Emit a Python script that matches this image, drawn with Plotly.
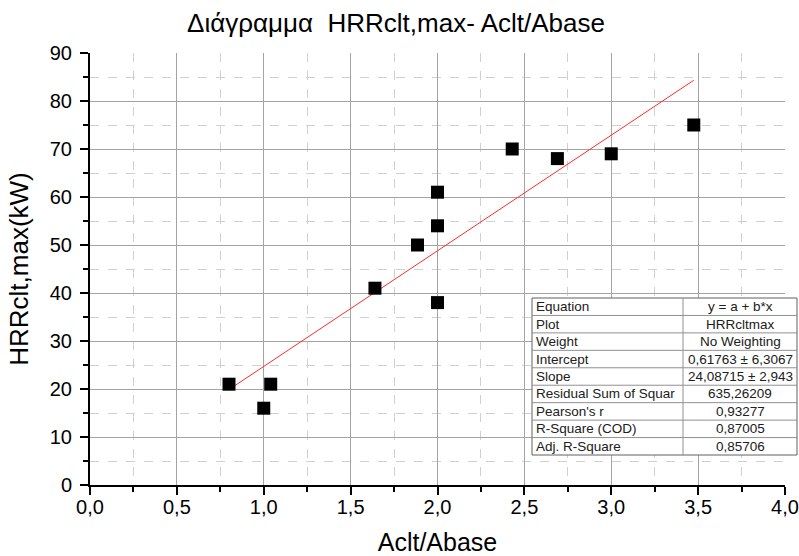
import plotly.graph_objects as go

# ---- data ----
ratio_x = [0.80, 1.00, 1.04, 1.64, 1.885, 2.00, 2.00, 2.00, 2.43, 2.69, 3.00, 3.475]
hrr_y = [21, 16, 21, 41, 50, 54, 61, 38, 70, 68, 69, 75]
intercept = 0.61763
slope = 24.08715

table_labels = ["Equation", "Plot", "Weight", "Intercept", "Slope",
                "Residual Sum of Squar", "Pearson's r", "R-Square (COD)", "Adj. R-Square"]
table_values = ["y = a + b*x", "HRRcltmax", "No Weighting", "0,61763 ± 6,3067",
                "24,08715 ± 2,943", "635,26209", "0,93277", "0,87005", "0,85706"]

title_text = "Διάγραμμα  HRRclt,max- Aclt/Abase"
x_title = "Aclt/Abase"
y_title = "HRRclt,max(kW)"

W, H = 799, 556
L, R, T, B = 90, 14, 53, 71
PW, PH = W - L - R, H - T - B


def px(x):
    return (x - L) / PW


def py(y):
    return (H - B - y) / PH


FONT = "Liberation Sans, Arial, sans-serif"

fig = go.Figure()

x_fit = [min(ratio_x), max(ratio_x)]
y_fit = [intercept + slope * v for v in x_fit]
fig.add_trace(go.Scatter(x=x_fit, y=y_fit, mode="lines",
                         line=dict(color="#ff2a2a", width=1), showlegend=False))
fig.add_trace(go.Scatter(x=ratio_x, y=hrr_y, mode="markers",
                         marker=dict(symbol="square", size=13, color="black"),
                         showlegend=False))

axis_common = dict(
    showline=True, linecolor="black", linewidth=2,
    ticks="outside", ticklen=8, tickwidth=2, tickcolor="black",
    showgrid=True, gridcolor="#a4a4a4", gridwidth=1,
    zeroline=False, mirror=False, automargin=False,
    tickfont=dict(family=FONT, size=20, color="black"),
)

fig.update_xaxes(range=[0, 4], dtick=0.5, tick0=0, tickformat=".1f", ticklabelstandoff=-5,
                 title=dict(text=x_title, font=dict(family=FONT, size=25, color="black"), standoff=19),
                 minor=dict(dtick=0.25, tick0=0, ticks="outside", ticklen=5, tickwidth=1.5, tickcolor="black",
                            showgrid=True, gridcolor="#d0d0d0", griddash="dash", gridwidth=1),
                 **axis_common)
fig.update_yaxes(range=[0, 90], dtick=10, tick0=0, ticklabelstandoff=4,
                 title=dict(text=y_title, font=dict(family=FONT, size=26, color="black"), standoff=14),
                 minor=dict(dtick=5, tick0=0, ticks="outside", ticklen=5, tickwidth=1.5, tickcolor="black",
                            showgrid=True, gridcolor="#d0d0d0", griddash="dash", gridwidth=1),
                 **axis_common)

# ---- table ----
tx0, tx1, tsplit = 532, 797, 683
ty0, ty1 = 298, 455
n = len(table_labels)
rh = (ty1 - ty0) / n
shapes = [dict(type="rect", xref="paper", yref="paper", x0=px(tx0), x1=px(tx1), y0=py(ty0), y1=py(ty1),
               fillcolor="white", line=dict(color="#606060", width=1), layer="above")]
for i in range(1, n):
    yy = ty0 + i * rh
    shapes.append(dict(type="line", xref="paper", yref="paper", x0=px(tx0), x1=px(tx1), y0=py(yy), y1=py(yy),
                       line=dict(color="#909090", width=1), layer="above"))
shapes.append(dict(type="line", xref="paper", yref="paper", x0=px(tsplit), x1=px(tsplit), y0=py(ty0), y1=py(ty1),
                   line=dict(color="#909090", width=1), layer="above"))

annotations = []
for i, (lab, val) in enumerate(zip(table_labels, table_values)):
    yc = ty0 + (i + 0.5) * rh
    annotations.append(dict(xref="paper", yref="paper", x=px(tx0 + 2), y=py(yc), text=lab, showarrow=False,
                            xanchor="left", yanchor="middle", font=dict(family=FONT, size=13.5, color="#202020")))
    annotations.append(dict(xref="paper", yref="paper", x=px((tsplit + tx1) / 2), y=py(yc), text=val,
                            showarrow=False, xanchor="center", yanchor="middle",
                            font=dict(family=FONT, size=13.5, color="#202020")))

fig.update_layout(
    width=W, height=H,
    margin=dict(l=L, r=R, t=T, b=B),
    paper_bgcolor="white", plot_bgcolor="white",
    separators=",.",
    title=dict(text=title_text, x=396 / W, xanchor="center", y=1 - 23 / H, yanchor="middle",
               yref="container", font=dict(family=FONT, size=26, color="black")),
    shapes=shapes, annotations=annotations,
)

fig.write_html("out.html")
